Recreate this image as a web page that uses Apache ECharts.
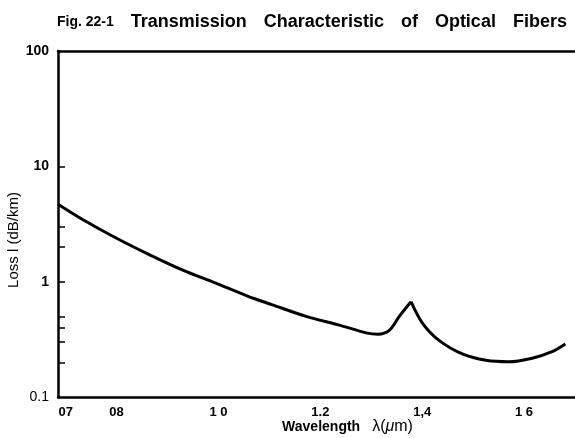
<!DOCTYPE html>
<html>
<head>
<meta charset="utf-8">
<script src="https://cdn.jsdelivr.net/npm/echarts@6/dist/echarts.min.js"></script>
<style>
  html, body { margin: 0; padding: 0; background: #fff; }
  #chart { width: 575px; height: 438px; }
</style>
</head>
<body>
<div id="chart"></div>
<script>
// wavelength in um, loss in dB/km
var wavelength = [0.685, 0.735, 0.80, 0.865, 0.93, 0.995, 1.057, 1.106, 1.172, 1.237, 1.29, 1.313, 1.336, 1.355, 1.378, 1.40, 1.433, 1.48, 1.525, 1.57, 1.616, 1.655, 1.681];
var loss = [4.7, 3.43, 2.38, 1.71, 1.26, 0.97, 0.75, 0.63, 0.50, 0.42, 0.36, 0.35, 0.38, 0.50, 0.67, 0.44, 0.31, 0.235, 0.208, 0.202, 0.217, 0.247, 0.288];

var xTicks = [0.7, 0.8, 1.0, 1.2, 1.4, 1.6];
var xTickLabels = ['07', '08', '1 0', '1.2', '1,4', '1 6'];
var yLabels = [100, 10, 1, 0.1];
var yTicks = [10, 3, 2, 1, 0.5, 0.4, 0.3, 0.2];

var font = 'Liberation Sans, Arial, sans-serif';

// the water peak is a sharp cusp, so draw the curve in two smooth halves
var peak = loss.indexOf(0.67);
var points = wavelength.map(function (w, i) { return [w, loss[i]]; });
var before = points.slice(0, peak + 1);
var after = points.slice(peak);

var chart = echarts.init(document.getElementById('chart'));

var lineStyle = { color: '#000', width: 3 };

var option = {
  animation: false,
  title: {
    left: 52,
    top: 8,
    text: '{a|Fig. 22-1}{g| }{b|Transmission}{g| }{b|Characteristic}{g| }{b|of}{g| }{b|Optical}{g| }{b|Fibers}',
    textStyle: {
      rich: {
        a: { fontFamily: font, fontWeight: 'bold', fontSize: 14, color: '#000' },
        b: { fontFamily: font, fontWeight: 'bold', fontSize: 18, color: '#000' },
        g: { width: 17 }
      }
    }
  },
  grid: { left: 58, right: 0, top: 51, bottom: 41, outerBoundsMode: 'none' },
  xAxis: [{
    type: 'value',
    min: 0.685,
    max: 1.70,
    splitLine: { show: false },
    axisLine: { lineStyle: { color: '#000', width: 2.5 } },
    axisTick: { show: false },
    axisLabel: {
      customValues: xTicks,
      margin: 9,
      fontFamily: font,
      fontWeight: 'bold',
      fontSize: 13,
      color: '#000',
      formatter: function (v) {
        var i = xTicks.indexOf(+v.toFixed(2));
        return i >= 0 ? xTickLabels[i] : '';
      }
    },
    name: '{b|Wavelength}{g| }{r|λ(}{i|μ}{r|m)}',
    nameLocation: 'middle',
    nameGap: 22,
    nameMoveOverlap: false,
    nameTextStyle: {
      padding: [0, 0, 0, 62],
      rich: {
        b: { fontFamily: font, fontWeight: 'bold', fontSize: 14, color: '#000' },
        g: { width: 12 },
        r: { fontFamily: font, fontSize: 16, color: '#000' },
        i: { fontFamily: font, fontStyle: 'italic', fontSize: 16, color: '#000' }
      }
    }
  }, {
    type: 'value',
    position: 'top',
    min: 0.685,
    max: 1.70,
    splitLine: { show: false },
    axisLine: { lineStyle: { color: '#000', width: 2.5 } },
    axisTick: { show: false },
    axisLabel: { show: false }
  }],
  yAxis: {
    type: 'log',
    min: 0.1,
    max: 100,
    logBase: 10,
    splitLine: { show: false },
    axisLine: { show: true, lineStyle: { color: '#000', width: 2.5 } },
    axisTick: {
      show: true,
      inside: true,
      length: 7,
      customValues: yTicks,
      lineStyle: { color: '#000', width: 1.5 }
    },
    axisLabel: {
      customValues: yLabels,
      margin: 9,
      formatter: function (v) {
        return v < 1 ? '{r|' + v + '}' : '{b|' + v + '}';
      },
      rich: {
        b: { fontFamily: font, fontWeight: 'bold', fontSize: 14, color: '#000' },
        r: { fontFamily: font, fontSize: 14, color: '#000' }
      }
    },
    name: 'Loss l (dB/km)',
    nameLocation: 'middle',
    nameGap: 37,
    nameMoveOverlap: false,
    nameTextStyle: {
      fontFamily: font,
      fontSize: 15,
      color: '#000',
      padding: [0, 32, 0, 0]
    }
  },
  series: [{
    type: 'line',
    data: before,
    smooth: 0.3,
    symbol: 'none',
    lineStyle: lineStyle
  }, {
    type: 'line',
    data: after,
    smooth: 0.3,
    symbol: 'none',
    lineStyle: lineStyle
  }]
};

chart.setOption(option);
</script>
</body>
</html>
